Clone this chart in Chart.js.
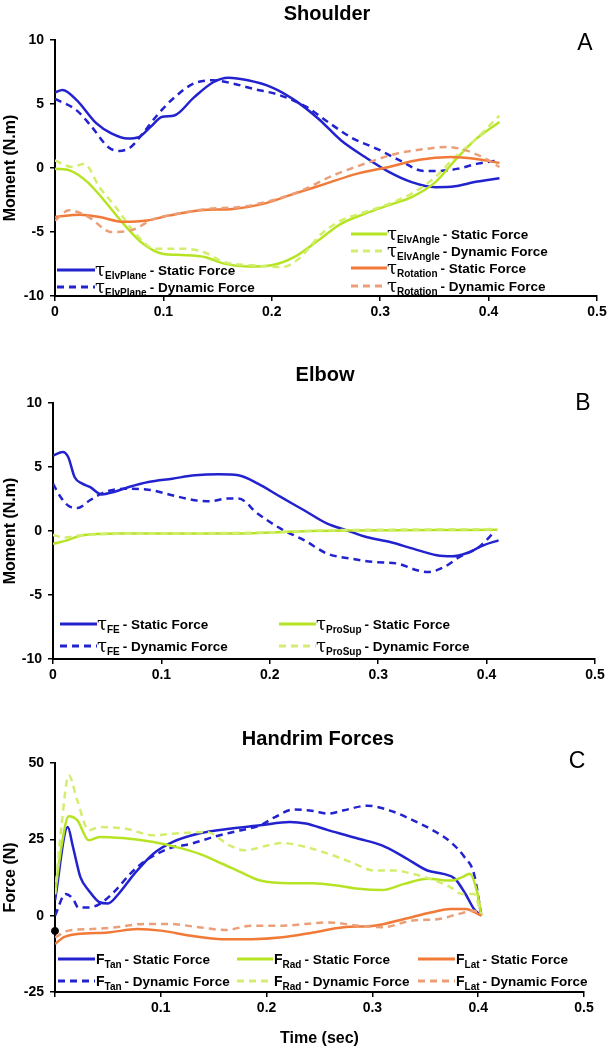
<!DOCTYPE html>
<html><head><meta charset="utf-8">
<script src="https://cdn.jsdelivr.net/npm/chart.js@4"></script>
<style>
body{margin:0;background:#fff;width:610px;height:1050px;position:relative;overflow:hidden;font-family:"Liberation Sans",Arial,sans-serif;color:#000}
canvas{position:absolute;left:0}
.title{position:absolute;font-weight:bold;font-size:20px;transform:translate(-50%,-50%);white-space:nowrap}
.letter{position:absolute;font-size:23px;transform:translate(-50%,-50%)}
.leg{position:absolute;display:flex;align-items:center;height:20px;white-space:nowrap;font-weight:bold;font-size:13.5px;transform:translateY(-50%)}
.leg svg{display:block;flex:none}
.sym{font-size:14px;margin-left:1px}
.tau{font-family:"DejaVu Serif","Liberation Serif",serif;font-size:18px;font-weight:normal;line-height:1}
.sub{font-size:10px;position:relative;top:5px;margin-right:3px}
</style>
</head><body>
<div id="wrapA"><canvas id="cA" width="610" height="340" style="top:0;width:610px;height:340px"></canvas></div>
<div id="wrapB"><canvas id="cB" width="610" height="360" style="top:340px;width:610px;height:360px"></canvas></div>
<div id="wrapC"><canvas id="cC" width="610" height="350" style="top:700px;width:610px;height:350px"></canvas></div>
<div id="overlay"></div>
<script>
// ---------- DATA (time in sec, value) ----------
// Panel A: Shoulder moments (N.m)
const elvPlaneStatic = [[0,5.9],[0.007,6.1],[0.02,5.3],[0.038,3.5],[0.052,2.7],[0.067,2.3],[0.077,2.4],[0.088,3.2],[0.099,4.0],[0.11,4.1],[0.128,5.5],[0.146,6.7],[0.16,7.05],[0.178,6.85],[0.2,6.3],[0.221,5.3],[0.243,3.85],[0.264,2.15],[0.286,0.86],[0.308,-0.3],[0.329,-1.1],[0.351,-1.5],[0.369,-1.43],[0.387,-1.1],[0.41,-0.8]];
const elvPlaneDynamic = [[0,5.4],[0.02,4.5],[0.034,3.2],[0.049,1.64],[0.059,1.33],[0.07,1.64],[0.081,2.7],[0.095,4.2],[0.11,5.5],[0.128,6.6],[0.146,6.85],[0.164,6.6],[0.182,6.2],[0.207,5.7],[0.232,4.77],[0.254,3.46],[0.275,2.3],[0.297,1.5],[0.318,0.6],[0.34,-0.23],[0.354,-0.23],[0.372,-0.05],[0.39,0.34],[0.41,0.6]];
const elvAngleStatic = [[0,-0.05],[0.014,-0.2],[0.03,-1.1],[0.045,-2.5],[0.063,-4.35],[0.081,-5.9],[0.099,-6.7],[0.117,-6.8],[0.138,-6.95],[0.156,-7.47],[0.178,-7.7],[0.2,-7.6],[0.221,-6.95],[0.243,-5.65],[0.264,-4.35],[0.286,-3.57],[0.308,-2.9],[0.329,-2.27],[0.351,-1.1],[0.369,0.6],[0.387,2.16],[0.41,3.6]];
const elvAngleDynamic = [[0,0.6],[0.016,0.08],[0.027,0.34],[0.041,-1.5],[0.056,-3.05],[0.074,-5.1],[0.092,-6.3],[0.11,-6.3],[0.135,-6.5],[0.156,-7.35],[0.182,-7.6],[0.21,-7.73],[0.225,-7.08],[0.246,-5.13],[0.264,-4.1],[0.286,-3.44],[0.308,-2.8],[0.329,-2.0],[0.351,-0.7],[0.369,0.86],[0.387,2.16],[0.41,4.1]];
const rotationStatic = [[0,-3.83],[0.023,-3.65],[0.041,-3.83],[0.063,-4.2],[0.085,-4.1],[0.106,-3.7],[0.135,-3.3],[0.164,-3.2],[0.192,-2.8],[0.221,-2.0],[0.25,-1.22],[0.279,-0.44],[0.308,0.08],[0.336,0.65],[0.365,0.86],[0.387,0.73],[0.41,0.4]];
const rotationDynamic = [[0,-4.1],[0.013,-3.3],[0.031,-3.83],[0.052,-5.0],[0.07,-4.87],[0.092,-3.96],[0.113,-3.57],[0.142,-3.18],[0.171,-3.05],[0.2,-2.53],[0.228,-1.74],[0.257,-0.57],[0.286,0.34],[0.315,1.12],[0.343,1.5],[0.361,1.64],[0.379,1.38],[0.397,0.73],[0.41,0.08]];
// Panel B: Elbow moments (N.m)
const feStatic = [[0,5.9],[0.009,6.17],[0.014,5.78],[0.02,4.2],[0.027,3.7],[0.034,3.44],[0.045,2.86],[0.056,3.05],[0.07,3.44],[0.088,3.83],[0.11,4.09],[0.131,4.35],[0.153,4.43],[0.171,4.35],[0.189,3.7],[0.21,2.66],[0.232,1.6],[0.253,0.57],[0.271,0.05],[0.289,-0.47],[0.311,-0.86],[0.332,-1.38],[0.354,-1.9],[0.368,-1.98],[0.382,-1.72],[0.397,-1.12],[0.411,-0.73]];
const feDynamic = [[0,3.7],[0.007,2.66],[0.016,1.88],[0.023,1.8],[0.034,2.4],[0.048,3.05],[0.066,3.3],[0.088,3.23],[0.11,2.79],[0.131,2.4],[0.145,2.32],[0.16,2.53],[0.171,2.53],[0.189,1.35],[0.21,0.18],[0.232,-0.73],[0.253,-1.77],[0.275,-2.16],[0.296,-2.42],[0.318,-2.55],[0.336,-3.07],[0.346,-3.2],[0.361,-2.81],[0.375,-2.03],[0.393,-1.25],[0.407,-0.08]];
const proSupStatic = [[0,-1.0],[0.013,-0.73],[0.027,-0.34],[0.059,-0.2],[0.167,-0.2],[0.239,0],[0.41,0.1]];
const proSupDynamic = [[0,-0.3],[0.01,-0.5],[0.03,-0.3],[0.1,-0.2],[0.2,-0.1],[0.25,0.05],[0.3,0.1],[0.41,0.15]];
// Panel C: Handrim forces (N)
const fTanStatic = [[0,5],[0.012,29],[0.017,22.5],[0.024,12.6],[0.032,8.2],[0.042,4.4],[0.05,4.0],[0.06,7.1],[0.075,13.7],[0.093,20.3],[0.111,24.1],[0.136,26.9],[0.165,28.5],[0.194,29.6],[0.222,30.7],[0.237,30.2],[0.258,28],[0.287,25.2],[0.309,23],[0.33,19.2],[0.352,14.8],[0.367,13.7],[0.378,12.1],[0.388,7.1],[0.396,2.2],[0.403,0]];
const fTanDynamic = [[0,0],[0.01,7.1],[0.017,5.5],[0.022,2.7],[0.032,2.7],[0.042,3.8],[0.057,8.2],[0.071,13.7],[0.086,18.1],[0.107,21.9],[0.129,23.6],[0.15,25.8],[0.172,27.7],[0.194,29.6],[0.208,32.3],[0.226,34.8],[0.244,34.3],[0.258,33.4],[0.273,34.5],[0.295,36],[0.316,34.5],[0.338,31.3],[0.36,27.4],[0.374,24.1],[0.387,19.2],[0.396,13.7],[0.403,0]];
const fRadStatic = [[0,7],[0.006,22.5],[0.013,32.6],[0.021,31.3],[0.032,24.7],[0.042,25.8],[0.064,25.4],[0.093,24.1],[0.114,22.5],[0.136,20.3],[0.158,17],[0.179,13.7],[0.194,11.5],[0.222,10.6],[0.244,10.6],[0.266,9.9],[0.287,8.8],[0.309,8.4],[0.33,10.4],[0.352,12.1],[0.374,11.5],[0.385,12.6],[0.392,13.7],[0.399,7.7],[0.403,0]];
const fRadDynamic = [[0,7],[0.006,29],[0.013,46],[0.021,37.8],[0.032,28],[0.042,29],[0.067,28.5],[0.093,26.3],[0.114,26.9],[0.143,27.4],[0.165,23],[0.179,21.4],[0.201,23],[0.215,23.8],[0.237,22.5],[0.258,20.3],[0.28,17.5],[0.302,14.8],[0.32,14.8],[0.338,13.7],[0.359,11.5],[0.374,9.3],[0.385,7.1],[0.396,7.1],[0.403,0]];
const fLatStatic = [[0,-9.3],[0.008,-7.1],[0.021,-6],[0.05,-5.5],[0.078,-4.4],[0.1,-4.9],[0.129,-6.6],[0.158,-7.7],[0.186,-7.7],[0.215,-7.1],[0.244,-5.5],[0.273,-3.8],[0.302,-3.3],[0.33,-1.1],[0.356,1.1],[0.374,2.2],[0.388,2.2],[0.403,0]];
const fLatDynamic = [[0,-7.1],[0.013,-4.9],[0.035,-4.4],[0.057,-3.8],[0.085,-2.7],[0.107,-2.7],[0.136,-3.8],[0.161,-4.7],[0.186,-3.3],[0.215,-3.3],[0.237,-2.7],[0.258,-2.2],[0.287,-3.3],[0.309,-3.8],[0.338,-1.6],[0.363,-1.1],[0.381,0.5],[0.396,1.6],[0.403,0]];
const originMarker = [[0,-5]];
// Axis ticks
const xTicks = [0, 0.1, 0.2, 0.3, 0.4, 0.5];
const momentTicks = [-10, -5, 0, 5, 10];
const forceTicks = [-25, 0, 25, 50];

// ---------- STYLE ----------
const BLUE = '#2222cf', GREEN = '#b6e424', GREEN_D = '#d3ee6e', ORANGE = '#f27a38', ORANGE_D = '#eb9f78';
const FONT = '"Liberation Sans", Arial, sans-serif';

function ds(points, color, dashed){
  return {data: points.map(p => ({x:p[0], y:p[1]})), borderColor: color, backgroundColor: color,
    borderWidth: 2.5, borderDash: dashed ? [7,5] : [], pointRadius: 0, fill:false,
    cubicInterpolationMode: 'monotone', tension: 0.4};
}

function makeChart(id, datasets, o){
  return new Chart(document.getElementById(id), {
    type: 'line',
    data: {datasets},
    options: {
      responsive: false, animation: false, events: [],
      layout: {padding: o.padding},
      plugins: {legend:{display:false}, tooltip:{enabled:false}, title:{display:false}},
      scales: {
        x: {type:'linear', min: xTicks[0], max: xTicks[xTicks.length-1],
          afterBuildTicks: s => { s.ticks = xTicks.map(v => ({value: v})); },
          afterFit: s => { s.height = o.xh; },
          ticks: {color:'#000', font:{family:FONT, size:14, weight:'bold'}, padding:3, maxRotation:0, autoSkip:false,
            callback: v => (v === 0 ? (o.hideZero ? '' : '0') : Number(v).toFixed(1))},
          grid: {display:true, drawOnChartArea:false, drawTicks:true, tickLength:5, color:'#000', lineWidth:1.5},
          border: {display:true, color:'#000', width:2},
          title: o.xTitle ? {display:true, text:o.xTitle, color:'#000', font:{family:FONT, size:16, weight:'bold'}, padding:{top:0,bottom:0}} : {display:false}
        },
        y: {type:'linear', min: o.yt[0], max: o.yt[o.yt.length-1],
          afterBuildTicks: s => { s.ticks = o.yt.map(v => ({value: v})); },
          afterFit: s => { s.width = o.yw; },
          ticks: {color:'#000', font:{family:FONT, size:14, weight:'bold'}, padding:6, autoSkip:false},
          grid: {display:true, drawOnChartArea:false, drawTicks:true, tickLength:5, color:'#000', lineWidth:1.5},
          border: {display:true, color:'#000', width:2},
          title: {display:true, text:o.yTitle, color:'#000', font:{family:FONT, size:16, weight:'bold'}, padding:{top:1,bottom:0}}
        }
      }
    }
  });
}

makeChart('cA', [
  ds(rotationDynamic, ORANGE_D, true), ds(rotationStatic, ORANGE, false),
  ds(elvAngleDynamic, GREEN_D, true), ds(elvAngleStatic, GREEN, false),
  ds(elvPlaneDynamic, BLUE, true), ds(elvPlaneStatic, BLUE, false)
], {padding:{top:40,right:13,bottom:14,left:0}, xh:30, yw:55, yt:momentTicks, yTitle:'Moment (N.m)'});

makeChart('cB', [
  ds(proSupDynamic, GREEN_D, true), ds(proSupStatic, GREEN, false),
  ds(feDynamic, BLUE, true), ds(feStatic, BLUE, false)
], {padding:{top:63,right:15,bottom:11,left:0}, xh:30, yw:53, yt:momentTicks, yTitle:'Moment (N.m)'});

const marker = {data: originMarker.map(p => ({x:p[0], y:p[1]})), showLine:false, pointRadius:3.5, pointBackgroundColor:'#000', pointBorderColor:'#000', borderColor:'#000', clip:false};
makeChart('cC', [
  ds(fLatDynamic, ORANGE_D, true), ds(fLatStatic, ORANGE, false),
  ds(fRadDynamic, GREEN_D, true), ds(fRadStatic, GREEN, false),
  ds(fTanDynamic, BLUE, true), ds(fTanStatic, BLUE, false), marker
], {padding:{top:63,right:26,bottom:2,left:0}, xh:56, yw:55, yt:forceTicks, yTitle:'Force (N)', xTitle:'Time (sec)', hideZero:true});

// ---------- HTML text: titles, letters, legends ----------
const ov = document.getElementById('overlay');
function add(html){ ov.insertAdjacentHTML('beforeend', html); }
[['Shoulder',327,13],['Elbow',325,374],['Handrim Forces',318,738]].forEach(t => add(`<div class="title" style="left:${t[1]}px;top:${t[2]}px">${t[0]}</div>`));
[['A',585,42],['B',583,402],['C',577,760]].forEach(t => add(`<div class="letter" style="left:${t[1]}px;top:${t[2]}px">${t[0]}</div>`));

function leg(x, y, w, color, dashed, sym, sub, label){
  const dash = dashed ? 'stroke-dasharray="7,5"' : '';
  const symHtml = sym === 'τ' ? `<span class="tau">τ</span>` : `<span class="sym">${sym}</span>`;
  add(`<div class="leg" style="left:${x}px;top:${y}px"><svg width="${w}" height="8"><line x1="0" y1="4" x2="${w}" y2="4" stroke="${color}" stroke-width="3" ${dash}/></svg>${symHtml}<span class="sub">${sub}</span>- ${label}</div>`);
}
// Panel A
leg(57, 270, 38, BLUE, false, 'τ', 'ElvPlane', 'Static Force');
leg(57, 287, 38, BLUE, true, 'τ', 'ElvPlane', 'Dynamic Force');
leg(351, 234, 36, GREEN, false, 'τ', 'ElvAngle', 'Static Force');
leg(351, 251, 36, GREEN_D, true, 'τ', 'ElvAngle', 'Dynamic Force');
leg(351, 268, 36, ORANGE, false, 'τ', 'Rotation', 'Static Force');
leg(351, 286, 36, ORANGE_D, true, 'τ', 'Rotation', 'Dynamic Force');
// Panel B
leg(60, 624, 37, BLUE, false, 'τ', 'FE', 'Static Force');
leg(60, 646, 37, BLUE, true, 'τ', 'FE', 'Dynamic Force');
leg(279, 624, 37, GREEN, false, 'τ', 'ProSup', 'Static Force');
leg(279, 646, 37, GREEN_D, true, 'τ', 'ProSup', 'Dynamic Force');
// Panel C
leg(58, 959, 37, BLUE, false, 'F', 'Tan', 'Static Force');
leg(58, 981, 37, BLUE, true, 'F', 'Tan', 'Dynamic Force');
leg(237, 959, 36, GREEN, false, 'F', 'Rad', 'Static Force');
leg(237, 981, 36, GREEN_D, true, 'F', 'Rad', 'Dynamic Force');
leg(418, 959, 37, ORANGE, false, 'F', 'Lat', 'Static Force');
leg(418, 981, 37, ORANGE_D, true, 'F', 'Lat', 'Dynamic Force');
</script>
</body></html>
